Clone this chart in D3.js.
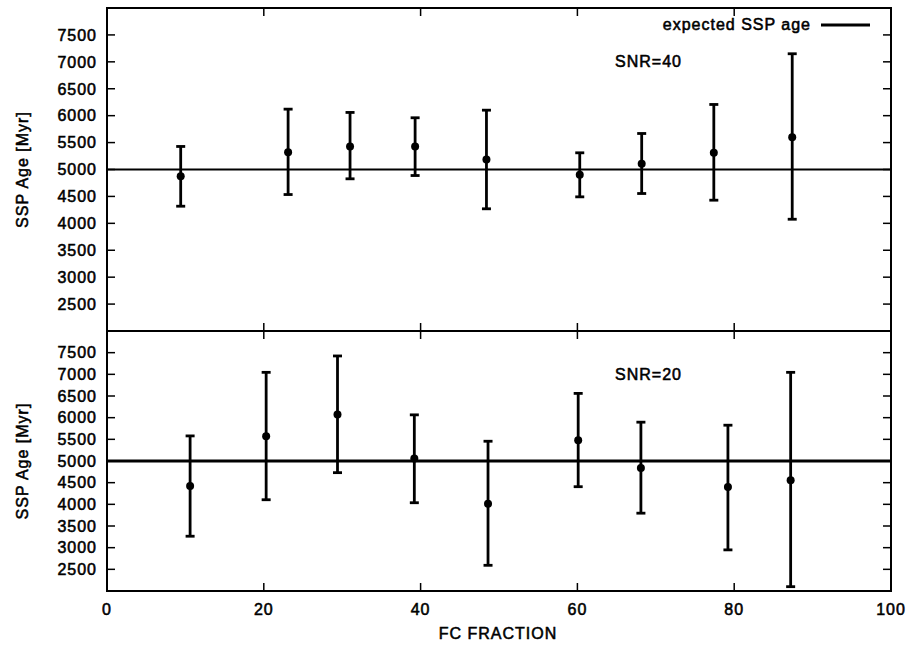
<!DOCTYPE html>
<html>
<head>
<meta charset="utf-8">
<script src="https://cdn.jsdelivr.net/npm/d3@7"></script>
<style>
  body { margin: 0; background: #fff; }
  svg text { font-family: "Liberation Sans", Arial, sans-serif; font-size: 16px; letter-spacing: 1px; fill: #000; stroke: #000; stroke-width: 0.55px; }
</style>
</head>
<body>
<svg id="chart" width="909" height="646"></svg>
<script>
// values
const expectedAge = 5000;
const yTicks = [2500, 3000, 3500, 4000, 4500, 5000, 5500, 6000, 6500, 7000, 7500];
const xTicks = [0, 20, 40, 60, 80, 100];

const fcTop = [9.4, 23.1, 31.0, 39.3, 48.4, 60.3, 68.2, 77.4, 87.4];
const ageTop = [4875, 5322, 5428, 5428, 5186, 4901, 5105, 5310, 5600];
const lowTop = [4318, 4535, 4827, 4888, 4270, 4492, 4554, 4430, 4076];
const highTop = [5428, 6121, 6060, 5961, 6102, 5310, 5669, 6208, 7150];

const fcBottom = [10.6, 20.3, 29.4, 39.2, 48.6, 60.1, 68.1, 79.2, 87.2];
const ageBottom = [4421, 5572, 6074, 5056, 4014, 5479, 4838, 4398, 4553];
const lowBottom = [3264, 4106, 4731, 4037, 2593, 4407, 3796, 2949, 2100];
const highBottom = [5579, 7046, 7424, 6065, 5456, 6560, 5896, 5826, 7046];

const svg = d3.select('#chart');
const left = 107, right = 891;

const x = d3.scaleLinear().domain([0, 100]).range([left, right]);

function drawPanel(top, bottom, fc, age, low, high, label, lineWidth) {
    const y = d3.scaleLinear().domain([2000, 8000]).range([bottom, top]);
    const g = svg.append('g');
    const tickLen = 8;

    // y ticks both sides, inward
    yTicks.forEach(v => {
        g.append('line').attr('x1', left).attr('x2', left + tickLen)
            .attr('y1', y(v)).attr('y2', y(v)).attr('stroke', '#000').attr('stroke-width', 1.5);
        g.append('line').attr('x1', right - tickLen).attr('x2', right)
            .attr('y1', y(v)).attr('y2', y(v)).attr('stroke', '#000').attr('stroke-width', 1.5);
        g.append('text').attr('x', left - 10).attr('y', y(v)).attr('dy', '0.36em')
            .attr('text-anchor', 'end').text(v);
    });

    // x ticks top and bottom, inward
    xTicks.forEach(v => {
        g.append('line').attr('x1', x(v)).attr('x2', x(v))
            .attr('y1', top).attr('y2', top + tickLen).attr('stroke', '#000').attr('stroke-width', 1.5);
        g.append('line').attr('x1', x(v)).attr('x2', x(v))
            .attr('y1', bottom - tickLen).attr('y2', bottom).attr('stroke', '#000').attr('stroke-width', 1.5);
    });

    // expected age line
    g.append('line').attr('x1', left).attr('x2', right)
        .attr('y1', y(expectedAge)).attr('y2', y(expectedAge))
        .attr('stroke', '#000').attr('stroke-width', lineWidth);

    // error bars
    const pts = fc.map((f, i) => ({f: f, a: age[i], lo: low[i], hi: high[i]}));
    const bars = g.selectAll('.bar').data(pts).enter().append('g').attr('class', 'bar');
    bars.append('line')
        .attr('x1', d => x(d.f)).attr('x2', d => x(d.f))
        .attr('y1', d => y(d.lo)).attr('y2', d => y(d.hi))
        .attr('stroke', '#000').attr('stroke-width', 2.8);
    bars.append('line')
        .attr('x1', d => x(d.f) - 4.5).attr('x2', d => x(d.f) + 4.5)
        .attr('y1', d => y(d.hi)).attr('y2', d => y(d.hi))
        .attr('stroke', '#000').attr('stroke-width', 2.8);
    bars.append('line')
        .attr('x1', d => x(d.f) - 4.5).attr('x2', d => x(d.f) + 4.5)
        .attr('y1', d => y(d.lo)).attr('y2', d => y(d.lo))
        .attr('stroke', '#000').attr('stroke-width', 2.8);
    bars.append('circle')
        .attr('cx', d => x(d.f)).attr('cy', d => y(d.a)).attr('r', 4).attr('fill', '#000');

    // frame
    g.append('rect').attr('x', left).attr('y', top)
        .attr('width', right - left).attr('height', bottom - top)
        .attr('fill', 'none').attr('stroke', '#000').attr('stroke-width', 2);

    g.append('text').attr('x', 615).attr('y', top + (label === 'SNR=40' ? 59 : 49)).text(label);

    g.append('text')
        .attr('transform', `translate(28,${(top + bottom) / 2}) rotate(-90)`)
        .attr('text-anchor', 'middle').text('SSP Age [Myr]');
}

drawPanel(8, 331, fcTop, ageTop, lowTop, highTop, 'SNR=40', 2);
drawPanel(331, 591, fcBottom, ageBottom, lowBottom, highBottom, 'SNR=20', 3);

// legend
svg.append('text').attr('x', 811).attr('y', 30).attr('text-anchor', 'end').text('expected SSP age');
svg.append('line').attr('x1', 821).attr('x2', 870).attr('y1', 25).attr('y2', 25)
    .attr('stroke', '#000').attr('stroke-width', 3);

// x axis labels
xTicks.forEach(v => {
    svg.append('text').attr('x', x(v)).attr('y', 615).attr('text-anchor', 'middle').text(v);
});
svg.append('text').attr('x', 498).attr('y', 639).attr('text-anchor', 'middle').text('FC FRACTION');
</script>
</body>
</html>
